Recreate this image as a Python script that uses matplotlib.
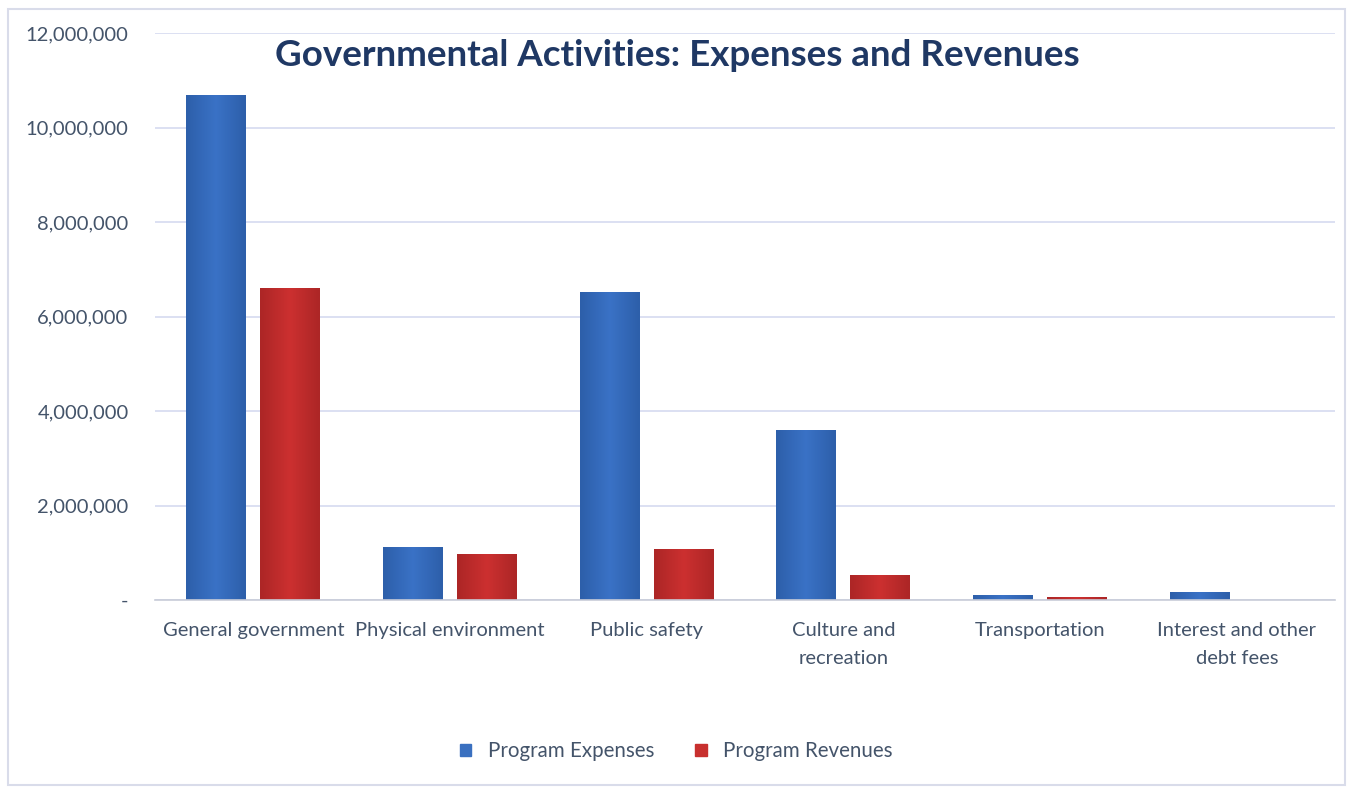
import matplotlib
matplotlib.use("Agg")
import matplotlib.pyplot as plt
import numpy as np
from matplotlib.patches import Rectangle, Patch
from matplotlib.colors import LinearSegmentedColormap

plt.rcParams["font.family"] = ["Lato", "DejaVu Sans"]

categories = ["General government", "Physical environment", "Public safety",
              "Culture and\nrecreation", "Transportation", "Interest and other\ndebt fees"]
expenses = [10680000, 1120000, 6520000, 3590000, 110000, 170000]
revenues = [6610000, 970000, 1080000, 530000, 60000, 0]
yticks = [0, 2000000, 4000000, 6000000, 8000000, 10000000, 12000000]

text_color = "#44546A"
blue_cmap = LinearSegmentedColormap.from_list("b", ["#2D5FAA", "#3A72C6", "#2D5FAA"])
red_cmap = LinearSegmentedColormap.from_list("r", ["#AC2626", "#CC3030", "#AC2626"])


def gradient_bars(ax, bars, cmap):
    grad = np.tile(np.linspace(0, 1, 64), (8, 1))
    for b in bars:
        b.set_facecolor("none")
        b.set_edgecolor("none")
        x0, y0 = b.get_x(), b.get_y()
        w, h = b.get_width(), b.get_height()
        if h <= 0:
            continue
        im = ax.imshow(grad, cmap=cmap, aspect="auto", extent=[x0, x0 + w, y0, y0 + h],
                       origin="lower", zorder=2)
        im.set_clip_path(b)


fig = plt.figure(figsize=(13.5, 7.88), dpi=100)
ax = fig.add_axes([0.1148, 0.2386, 0.8742, 0.7194])

x = np.arange(len(categories))
w = 0.305
off = 0.188
b1 = ax.bar(x - off, expenses, w, color="#3A70C0", zorder=2, label="Program Expenses")
b2 = ax.bar(x + off, revenues, w, color="#C8302E", zorder=2, label="Program Revenues")
gradient_bars(ax, b1, blue_cmap)
gradient_bars(ax, b2, red_cmap)

ax.set_xlim(-0.5, len(categories) - 0.5)
ax.set_ylim(0, 12000000)
ax.set_yticks(yticks)
ax.set_yticklabels(["-" if v == 0 else f"{v:,.0f}" for v in yticks])
ax.set_xticks(x)
ax.set_xticklabels(categories, linespacing=1.75)
ax.tick_params(axis="both", length=0, labelsize=14.5, labelcolor=text_color)
ax.tick_params(axis="x", pad=16)
ax.tick_params(axis="y", pad=19)
ax.grid(axis="y", color="#D6DAF0", linewidth=1.2, zorder=0)
ax.set_axisbelow(True)
for s in ["top", "right", "left"]:
    ax.spines[s].set_visible(False)
ax.spines["bottom"].set_color("#C8CCD8")
ax.spines["bottom"].set_linewidth(1.2)

ax.text(0.443, 0.96, "Governmental Activities: Expenses and Revenues", transform=ax.transAxes,
        ha="center", va="center", fontsize=26.5, fontweight="bold", color="#1F3864")

handles = [Patch(color="#3A70C0"), Patch(color="#C8302E")]
fig.legend(handles, ["Program Expenses", "Program Revenues"], loc="center",
           bbox_to_anchor=(0.501, 0.047), ncol=2, frameon=False, fontsize=14.8,
           labelcolor=text_color, handlelength=0.55, handleheight=0.55, columnspacing=2.0)

fig.patches.append(Rectangle((0.006, 0.004), 0.99, 0.985, transform=fig.transFigure,
                             fill=False, edgecolor="#D9DCEA", linewidth=1.5))

fig.savefig("out.png", dpi=100)
